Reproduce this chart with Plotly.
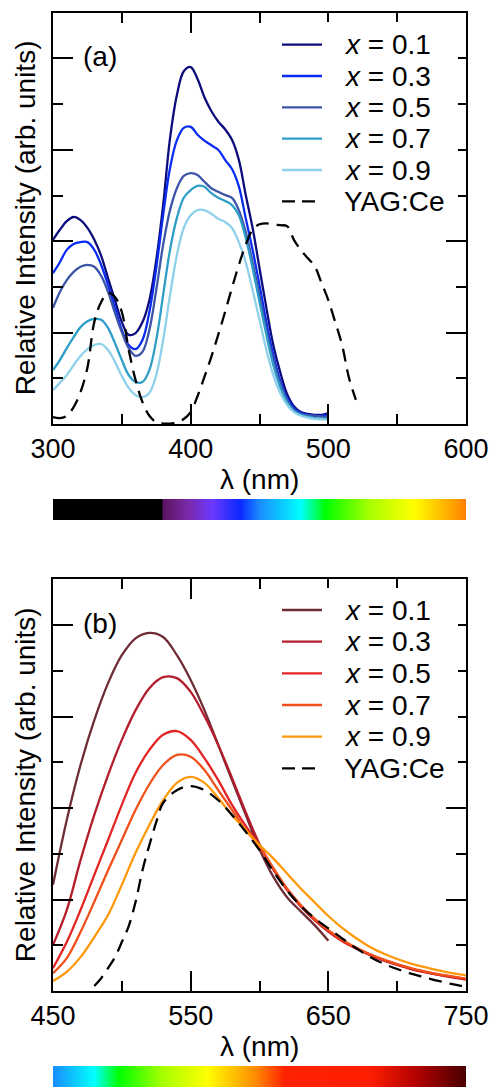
import plotly.graph_objects as go
import numpy as np

W, H = 493, 1087

# ---------------- Panel (a): excitation spectra ----------------
wl_a = [300, 305, 310, 315, 320, 325, 330, 335, 340, 345, 350, 355, 360, 365, 370, 375, 380,
        385, 390, 395, 400, 405, 410, 415, 420, 425, 430, 435, 440, 445, 450, 455, 460, 465,
        470, 475, 480, 485, 490, 495, 500]
a_x01 = [4.03, 4.25, 4.44, 4.53, 4.46, 4.29, 4.03, 3.68, 3.19, 2.71, 2.23, 1.95, 1.99, 2.23, 2.71,
         3.59, 4.79, 6.25, 7.20, 7.72, 7.81, 7.55, 7.15, 6.85, 6.62, 6.45, 6.22, 5.78, 5.01, 4.29,
         3.41, 2.54, 1.73, 1.14, 0.66, 0.39, 0.26, 0.22, 0.20, 0.20, 0.24]
a_x03 = [3.30, 3.54, 3.81, 3.94, 3.98, 3.98, 3.81, 3.48, 3.04, 2.54, 2.06, 1.73, 1.64, 1.84, 2.45,
         3.41, 4.57, 5.60, 6.21, 6.48, 6.50, 6.33, 6.20, 6.10, 6.00, 5.78, 5.58, 5.20, 4.50, 3.81,
         3.04, 2.23, 1.51, 0.96, 0.57, 0.35, 0.24, 0.20, 0.18, 0.18, 0.18]
a_x05 = [2.54, 2.89, 3.15, 3.33, 3.44, 3.48, 3.44, 3.24, 2.89, 2.43, 2.01, 1.66, 1.49, 1.58, 2.06,
         2.93, 3.92, 4.68, 5.16, 5.43, 5.49, 5.45, 5.30, 5.16, 5.08, 5.01, 4.95, 4.68, 4.20, 3.54,
         2.82, 2.06, 1.40, 0.90, 0.53, 0.31, 0.22, 0.19, 0.18, 0.16, 0.15]
a_x07 = [1.18, 1.40, 1.66, 1.90, 2.12, 2.25, 2.30, 2.28, 2.10, 1.77, 1.40, 1.07, 0.92, 0.92, 1.18,
         1.84, 2.82, 3.81, 4.51, 4.95, 5.12, 5.21, 5.19, 5.05, 4.95, 4.88, 4.79, 4.57, 4.07, 3.41,
         2.67, 1.95, 1.29, 0.81, 0.48, 0.28, 0.20, 0.16, 0.13, 0.12, 0.11]
a_x09 = [0.74, 0.90, 1.07, 1.29, 1.49, 1.64, 1.73, 1.75, 1.62, 1.36, 1.05, 0.79, 0.63, 0.59, 0.68,
         1.07, 1.84, 2.82, 3.70, 4.29, 4.57, 4.68, 4.68, 4.60, 4.49, 4.42, 4.29, 3.98, 3.54, 2.93,
         2.28, 1.62, 1.07, 0.68, 0.42, 0.26, 0.18, 0.14, 0.11, 0.10, 0.09]
wl_yag_a = [300, 305, 310, 315, 320, 325, 330, 335, 340, 345, 350, 355, 360, 365, 370, 375, 380,
            385, 390, 395, 400, 405, 410, 415, 420, 425, 430, 435, 440, 445, 450, 455, 460, 465,
            470, 475, 480, 485, 490, 495, 500, 505, 510, 515, 520]
yag_a = [0.15, 0.13, 0.18, 0.37, 0.70, 1.23, 2.23, 2.67, 2.87, 2.78, 2.45, 1.62, 0.96, 0.48, 0.18,
         0.04, 0.01, 0.01, 0.04, 0.11, 0.26, 0.61, 1.03, 1.47, 1.95, 2.45, 2.98, 3.48, 3.92, 4.25,
         4.37, 4.39, 4.37, 4.35, 4.33, 4.03, 3.81, 3.63, 3.46, 3.09, 2.71, 2.23, 1.73, 1.01, 0.53]

# ---------------- Panel (b): emission spectra ----------------
wl_b = [450, 460, 470, 480, 490, 500, 510, 520, 530, 540, 550, 560, 570, 580, 590, 600, 610, 620,
        630, 640, 650, 660, 670, 680, 690, 700, 710, 720, 730, 740, 750]
wl_b01 = wl_b[:21]
b_x01 = [2.32, 3.74, 4.94, 5.92, 6.73, 7.34, 7.71, 7.83, 7.74, 7.34, 6.80, 6.14, 5.38, 4.61, 3.85,
         3.10, 2.50, 2.05, 1.74, 1.44, 1.10]
b_x03 = [1.01, 1.77, 2.86, 3.85, 4.72, 5.49, 6.14, 6.62, 6.86, 6.84, 6.54, 6.01, 5.38, 4.66, 3.91,
         3.21, 2.66, 2.21, 1.85, 1.55, 1.30, 1.09, 0.93, 0.79, 0.67, 0.57, 0.48, 0.41, 0.35, 0.30, 0.25]
b_x05 = [0.50, 1.07, 1.77, 2.54, 3.30, 4.07, 4.77, 5.27, 5.60, 5.68, 5.49, 5.09, 4.61, 4.07, 3.61,
         3.17, 2.67, 2.22, 1.86, 1.56, 1.31, 1.10, 0.94, 0.80, 0.68, 0.58, 0.49, 0.42, 0.36, 0.31, 0.26]
b_x07 = [0.39, 0.72, 1.29, 1.95, 2.64, 3.30, 3.96, 4.52, 4.94, 5.16, 5.12, 4.83, 4.39, 3.96, 3.52,
         3.15, 2.69, 2.24, 1.88, 1.58, 1.33, 1.12, 0.95, 0.81, 0.69, 0.59, 0.50, 0.43, 0.37, 0.32, 0.27]
b_x09 = [0.22, 0.42, 0.74, 1.18, 1.66, 2.32, 3.02, 3.63, 4.17, 4.55, 4.68, 4.55, 4.22, 3.85, 3.52,
         3.19, 2.90, 2.57, 2.24, 1.94, 1.64, 1.38, 1.16, 0.97, 0.82, 0.70, 0.60, 0.52, 0.45, 0.39, 0.34]
wl_yag_b = [480, 485, 490, 495, 500, 505, 510, 515, 520, 525, 530, 540, 550, 560, 570, 580, 590,
            600, 610, 620, 630, 640, 650, 660, 670, 680, 690, 700, 710, 720, 730, 740, 750]
yag_b = [0.11, 0.28, 0.50, 0.74, 1.07, 1.42, 1.95, 2.64, 3.19, 3.69, 4.11, 4.39, 4.48, 4.39, 4.17,
         3.85, 3.48, 3.08, 2.62, 2.20, 1.86, 1.59, 1.37, 1.15, 0.94, 0.75, 0.60, 0.48, 0.38, 0.30,
         0.22, 0.15, 0.09]

labels = ["x = 0.1", "x = 0.3", "x = 0.5", "x = 0.7", "x = 0.9", "YAG:Ce"]
colors_a = ["#0c0c7c", "#0a2cf0", "#3d55a8", "#2e9ec8", "#8fd0ea", "#000000"]
colors_b = ["#6e2c34", "#b31d2c", "#e22424", "#f0501a", "#ff980a", "#000000"]

# visible-spectrum strip (wavelength -> colour stops)
spec_nm = [300, 379, 380, 398, 416, 436, 450, 480, 498, 530, 562, 597, 618, 680, 715, 750]
spec_col = ["#000000", "#000000", "#5a145f", "#7a2aa8", "#6a38ff", "#0a28ff", "#1a8cff", "#00ffff",
            "#00ff00", "#a8ff00", "#ffff00", "#ff8c00", "#ff2200", "#ff1e00", "#b00000", "#4a0000"]


def hex2rgb(h):
    h = h.lstrip('#')
    return np.array([int(h[i:i + 2], 16) for i in (0, 2, 4)], dtype=float)


def color_at(nm):
    rgbs = np.array([hex2rgb(c) for c in spec_col])
    return [float(np.interp(nm, spec_nm, rgbs[:, k])) for k in range(3)]


def scale_for(lo, hi):
    pts = [lo] + [n for n in spec_nm if lo < n < hi] + [hi]
    cs = []
    for n in pts:
        r, g, b = color_at(n)
        cs.append([(n - lo) / (hi - lo), f"rgb({r:.0f},{g:.0f},{b:.0f})"])
    return cs


def px_x(p):
    return p / W


def px_y(p):
    return 1 - p / H


X0, X1 = 53, 466
A_TOP, A_BOT = 12.7, 424
B_TOP, B_BOT = 579.3, 991

fig = go.Figure()

series_a = [a_x01, a_x03, a_x05, a_x07, a_x09]
for ys, c in zip(series_a, colors_a[:5]):
    fig.add_trace(go.Scatter(x=wl_a, y=ys, mode="lines", line=dict(color=c, width=2.3, shape="spline"),
                             xaxis="x", yaxis="y", showlegend=False))
fig.add_trace(go.Scatter(x=wl_yag_a, y=yag_a, mode="lines",
                         line=dict(color="black", width=2.3, dash="13px,8px", shape="spline"),
                         xaxis="x", yaxis="y", showlegend=False))

series_b = [(wl_b01, b_x01), (wl_b, b_x03), (wl_b, b_x05), (wl_b, b_x07), (wl_b, b_x09)]
for (xs, ys), c in zip(series_b, colors_b[:5]):
    fig.add_trace(go.Scatter(x=xs, y=ys, mode="lines", line=dict(color=c, width=2.3, shape="spline"),
                             xaxis="x2", yaxis="y2", showlegend=False))
fig.add_trace(go.Scatter(x=wl_yag_b, y=yag_b, mode="lines",
                         line=dict(color="black", width=2.3, dash="13px,8px", shape="spline"),
                         xaxis="x2", yaxis="y2", showlegend=False))

# spectrum colour strips
for (lo, hi), top in [((300, 600), 499.3), ((450, 750), 1065.7)]:
    fig.add_trace(go.Scatter(
        x=[None], y=[None], mode="markers", showlegend=False, hoverinfo="skip",
        marker=dict(color=[lo], cmin=lo, cmax=hi, colorscale=scale_for(lo, hi), showscale=True,
                    colorbar=dict(orientation="h", x=px_x((X0 + X1) / 2), xanchor="center",
                                  y=px_y(top), yanchor="top", len=X1 - X0, lenmode="pixels",
                                  thickness=21, thicknessmode="pixels", outlinewidth=0,
                                  showticklabels=False, ticks="", xpad=0, ypad=0)),
        xaxis="x", yaxis="y"))

FONT = "Liberation Sans, Arial, sans-serif"
axis_common = dict(showline=True, linewidth=2, linecolor="black", mirror="allticks",
                   ticks="inside", tickwidth=2, tickcolor="black", showgrid=False, zeroline=False,
                   tickfont=dict(family=FONT, size=27, color="black"))

fig.update_layout(
    width=W, height=H, margin=dict(l=0, r=0, t=0, b=0, autoexpand=False), autosize=False,
    paper_bgcolor="white", plot_bgcolor="white", showlegend=False,
    xaxis=dict(domain=[px_x(X0), px_x(X1)], anchor="y", range=[300, 600], tickmode="array",
               tickvals=[300, 400, 500, 600], ticklen=20,
               minor=dict(tickmode="array", tickvals=[350, 450, 550], ticklen=10, ticks="inside",
                          tickwidth=2, tickcolor="black"), **axis_common),
    yaxis=dict(domain=[px_y(A_BOT), px_y(A_TOP)], anchor="x", range=[0, 9], tickmode="array",
               tickvals=[2, 4, 6, 8], ticklen=20, showticklabels=False,
               minor=dict(tickmode="array", tickvals=[1, 3, 5, 7], ticklen=10, ticks="inside",
                          tickwidth=2, tickcolor="black"), **axis_common),
    xaxis2=dict(domain=[px_x(X0), px_x(X1)], anchor="y2", range=[450, 750], tickmode="array",
                tickvals=[450, 550, 650, 750], ticklen=20,
                minor=dict(tickmode="array", tickvals=[500, 600, 700], ticklen=10, ticks="inside",
                           tickwidth=2, tickcolor="black"), **axis_common),
    yaxis2=dict(domain=[px_y(B_BOT), px_y(B_TOP)], anchor="x2", range=[0, 9], tickmode="array",
                tickvals=[2, 4, 6, 8], ticklen=20, showticklabels=False,
                minor=dict(tickmode="array", tickvals=[1, 3, 5, 7], ticklen=10, ticks="inside",
                           tickwidth=2, tickcolor="black"), **axis_common),
)

shapes = []
annotations = []


def add_legend(rows_y, colors, box):
    x0b, y0b, x1b, y1b = box
    shapes.append(dict(type="rect", xref="paper", yref="paper", layer="above",
                       x0=px_x(x0b), x1=px_x(x1b), y0=px_y(y1b), y1=px_y(y0b),
                       fillcolor="white", line=dict(width=0)))
    for ry, c, lab in zip(rows_y, colors, labels):
        dash = "13px,7px" if lab.startswith("YAG") else "solid"
        shapes.append(dict(type="line", xref="paper", yref="paper", layer="above",
                           x0=px_x(282), x1=px_x(322), y0=px_y(ry), y1=px_y(ry),
                           line=dict(color=c, width=2.3, dash=dash)))
        txt = lab if lab.startswith("YAG") else "<i>x</i>" + lab[1:]
        annotations.append(dict(text=txt, xref="paper", yref="paper", x=px_x(342), y=px_y(ry),
                                xanchor="left", yanchor="middle", showarrow=False,
                                font=dict(family=FONT, size=28, color="black")))


add_legend([44.7, 76.0, 107.3, 138.6, 170.0, 201.3], colors_a, (276, 22, 458, 216))
add_legend([610.0, 641.7, 673.3, 705.0, 736.7, 768.3], colors_b, (276, 588, 458, 783))

for txt, y in [("(a)", 56.7), ("(b)", 623.0)]:
    annotations.append(dict(text=txt, xref="paper", yref="paper", x=px_x(100), y=px_y(y),
                            xanchor="center", yanchor="middle", showarrow=False,
                            font=dict(family=FONT, size=28, color="black")))

for yc in [(A_TOP + A_BOT) / 2, (B_TOP + B_BOT) / 2]:
    annotations.append(dict(text="Relative Intensity (arb. units)", xref="paper", yref="paper",
                            x=px_x(25), y=px_y(yc), xanchor="center", yanchor="middle",
                            textangle=-90, showarrow=False,
                            font=dict(family=FONT, size=28, color="black")))

for yc in [480, 1046]:
    annotations.append(dict(text="λ (nm)", xref="paper", yref="paper", x=px_x((X0 + X1) / 2),
                            y=px_y(yc), xanchor="center", yanchor="middle", showarrow=False,
                            font=dict(family=FONT, size=28, color="black")))

fig.update_layout(shapes=shapes, annotations=annotations)
fig.write_html("out.html")
